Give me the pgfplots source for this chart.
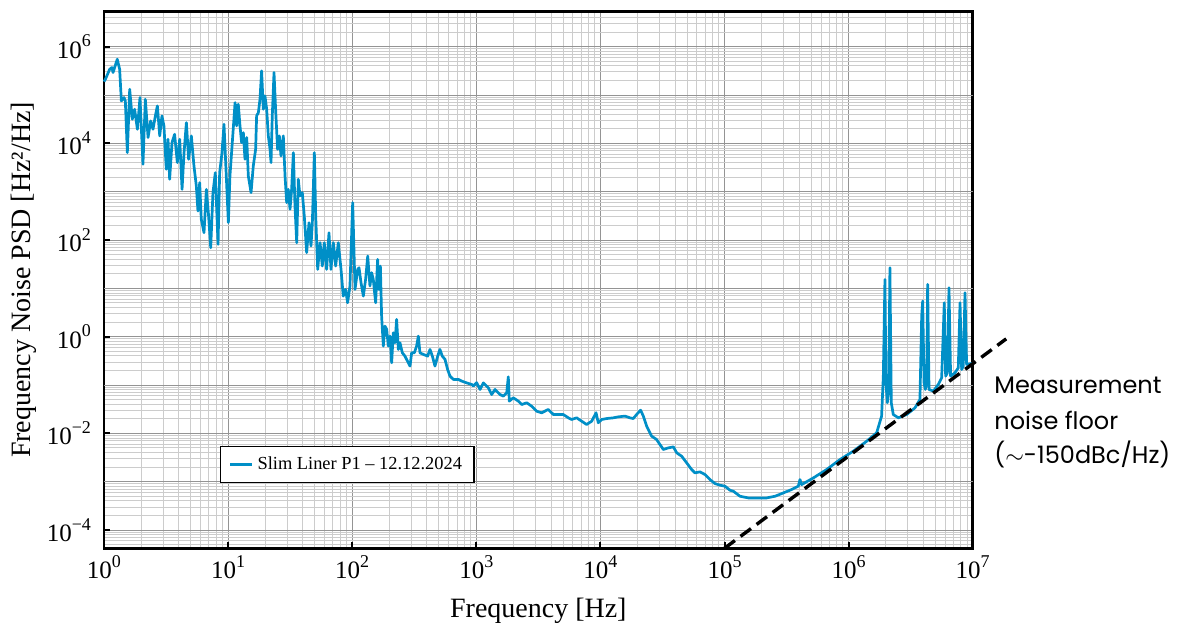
\documentclass[border=0pt]{standalone}
\usepackage{fontspec}
\setmainfont{Liberation Serif}
\newfontfamily\annfont{Poppins}
\usepackage{pgfplots}
\pgfplotsset{compat=1.18}
\definecolor{psd}{RGB}{0,143,199}
\newcommand\pw[1]{10\raisebox{0.45em}{\fontsize{9}{9}\selectfont #1}}
\begin{document}
\begin{tikzpicture}
\begin{axis}[name=ax,
 xmode=log, ymode=log,
 scale only axis, width=434.35pt, height=268.3pt,
 xmin=1, xmax=1e7, ymin=4.2e-5, ymax=5.3e6,
 clip=false,
 axis line style={line width=1.3pt, black},
 tick align=inside, tick pos=left,
 major tick length=3pt, minor tick length=0pt,
 every tick/.style={black, line width=1pt},
 grid=both,
 major grid style={draw=black!42, line width=0.5pt},
 minor grid style={draw=black!20, line width=0.5pt},
 xtick={1,10,100,1000,1e4,1e5,1e6,1e7},
 xticklabels={\pw{0},\pw{1},\pw{2},\pw{3},\pw{4},\pw{5},\pw{6},\pw{7}},
 minor xtick={2,3,4,5,6,7,8,9,20,30,40,50,60,70,80,90,200,300,400,500,600,700,800,900,2000,3000,4000,5000,6000,7000,8000,9000,2e4,3e4,4e4,5e4,6e4,7e4,8e4,9e4,2e5,3e5,4e5,5e5,6e5,7e5,8e5,9e5,2e6,3e6,4e6,5e6,6e6,7e6,8e6,9e6},
 ytick={1e-4,1e-2,1,1e2,1e4,1e6},
 yticklabels={\pw{−4},\pw{−2},\pw{0},\pw{2},\pw{4},\pw{6}},
 minor ytick={5e-5,6e-5,7e-5,8e-5,9e-5,2e-4,3e-4,4e-4,5e-4,6e-4,7e-4,8e-4,9e-4,2e-3,3e-3,4e-3,5e-3,6e-3,7e-3,8e-3,9e-3,2e-2,3e-2,4e-2,5e-2,6e-2,7e-2,8e-2,9e-2,0.2,0.3,0.4,0.5,0.6,0.7,0.8,0.9,2,3,4,5,6,7,8,9,20,30,40,50,60,70,80,90,200,300,400,500,600,700,800,900,2000,3000,4000,5000,6000,7000,8000,9000,2e4,3e4,4e4,5e4,6e4,7e4,8e4,9e4,2e5,3e5,4e5,5e5,6e5,7e5,8e5,9e5,2e6,3e6,4e6,5e6},
 extra y ticks={1e-3,1e-1,10,1000,1e5},
 extra y tick labels={},
 extra y tick style={grid=major, major tick length=0pt},
 tick label style={font=\fontsize{12.5}{14}\selectfont},
 yticklabel style={xshift=-3pt},
 xlabel={Frequency [Hz]}, ylabel={Frequency Noise PSD [Hz²/Hz]},
 label style={font=\fontsize{14}{16}\selectfont},
 xlabel style={at={(axis description cs:0.5,-0.1299)}, anchor=base},
 ylabel style={at={(axis description cs:-0.0845,0.5)}, anchor=base},
 legend style={at={(0.1335,0.1217)}, anchor=south west, draw=black, line width=0.6pt,
   font=\fontsize{9.2}{11}\selectfont, inner xsep=4pt, inner ysep=3pt},
 legend cell align=left,
 legend image code/.code={\draw[psd, line width=1.5pt] (0pt,0pt) -- (11pt,0pt);},
]
\addplot[psd, line width=1.35pt, line join=round] coordinates {
(1.0,1.9e5) (1.026,2.12e5) (1.112,3.42e5) (1.159,3.71e5) (1.183,2.92e5) (1.279,5.51e5) (1.337,3.42e5) (1.380,7.55e4) (1.449,8.87e4) (1.486,7.55e4) (1.542,6.44e3) (1.611,1.32e5) (1.690,3.16e4) (1.766,5.08e4) (1.858,1.96e4) (1.950,8.87e4) (2.061,3.69e3) (2.153,8.18e4) (2.265,1.32e4) (2.377,2.91e4) (2.483,1.96e4) (2.594,3.70e4) (2.692,5.96e4) (2.812,1.43e4) (2.931,3.70e4) (3.041,2.30e4) (3.177,2.91e3) (3.281,1.22e4) (3.381,1.81e3) (3.532,1.04e4) (3.707,1.54e4) (3.899,4.00e3) (4.074,1.22e4) (4.256,1.12e3) (4.416,6.44e3) (4.613,2.69e4) (4.808,4.69e3) (5.058,1.43e4) (5.309,3.41e3) (5.546,1.32e3) (5.715,399) (5.902,1.54e3) (6.081,269) (6.397,142) (6.683,1.12e3) (6.966,315) (7.244,69.5) (7.551,957) (7.889,2.48e3) (8.299,81.5) (8.551,2.48e3) (8.933,6.44e3) (9.268,2.48e4)
(10.05,229) (10.35,2.12e3) (10.81,1.04e4) (11.38,6.98e4) (11.72,2.30e4) (12.08,6.46e4) (12.47,2.30e4) (12.85,1.04e4) (13.27,1.67e4) (13.68,4.69e3) (14.13,1.32e4) (14.55,2.12e3) (15.31,957) (15.96,3.41e3) (16.67,7.55e3) (16.98,3.70e4) (17.54,4.34e4) (18.07,8.18e4) (18.62,3.16e5) (19.23,5.08e4) (19.82,9.59e4) (20.46,5.08e4) (21.09,1.43e4) (21.78,7.55e3) (22.18,4.00e3) (22.70,3.70e4) (23.44,2.92e5) (24.15,5.08e4) (25.06,7.55e3) (25.88,1.43e4) (26.67,5.50e3) (27.86,1.43e4) (28.77,2.12e3) (29.65,594) (30.55,1.12e3) (31.55,433) (32.51,1.12e3) (33.57,6.44e3) (34.59,507) (35.73,88.3) (36.81,1.81e3) (37.93,817) (39.63,957) (41.11,315) (42.95,54.8) (44.87,229) (46.56,75.3) (47.75,229) (49.55,6.44e3) (50.82,315) (52.72,24.7) (55.08,88.3) (57.41,29.0) (59.57,88.3) (62.23,24.7) (65.01,142) (67.45,24.7) (70.47,88.3) (73.62,29.0) (77.27,88.3) (81.28,24.7) (84.72,6.93) (88.51,9.53) (91.83,5.05) (95.94,11.2) (100.9,594) (105.4,9.53) (110.7,24.7)
(113.5,26.8) (117.8,13.1) (123.0,6.93) (128.2,15.3) (133.4,46.7) (139.0,11.2) (143.5,21.1) (147.9,15.3) (154.5,5.05) (160.3,39.8) (164.4,9.53) (168.7,29.0) (172.6,2.67) (178.2,0.640) (183.7,1.66) (189.7,1.42) (195.4,0.640) (201.8,1.03) (208.0,0.289) (214.3,1.21) (221.3,0.750) (228.0,2.28) (235.5,0.546) (242.7,0.750) (253.5,0.466) (266.1,0.397) (283.1,0.289) (292.4,0.247) (301.3,0.466) (317.0,0.466) (330.4,0.640) (341.2,1.03) (351.6,0.466) (374.1,0.431) (405.5,0.397) (423.6,0.546) (442.6,0.397) (464.5,0.247) (488.7,0.397) (509.3,0.546) (532.1,0.397) (559.8,0.339) (587.5,0.210) (613.8,0.153) (653.1,0.131) (716.1,0.131) (762.1,0.121) (835.6,0.111) (918.4,0.103)
(946.2,0.0955) (1007,0.112) (1072,0.0811) (1140,0.111) (1250,0.0877) (1330,0.0638) (1416,0.0811) (1552,0.0638) (1652,0.0590) (1758,0.0692) (1811,0.148) (1845,0.0465) (1986,0.0545) (2183,0.0465) (2323,0.0396) (2547,0.0430) (2793,0.0366) (3062,0.0288) (3365,0.0267) (3802,0.0313) (4178,0.0246) (4581,0.0246) (5023,0.0246) (5521,0.0210) (5861,0.0194) (6442,0.0210) (7063,0.0179) (7745,0.0153) (8511,0.0179) (9226,0.0267) (9616,0.0166) (10230,0.0194) (11250,0.0203) (12710,0.0210) (13960,0.0220) (15780,0.0228) (17300,0.0210) (18410,0.0203) (19590,0.0246) (21090,0.0303) (22180,0.0228) (23600,0.0141) (25880,0.00877) (28380,0.00748) (30200,0.00589) (32140,0.00465) (35240,0.00502) (38730,0.00527) (41210,0.00396) (45190,0.00338) (49550,0.00246) (54330,0.00179) (57810,0.00153) (63530,0.00160) (69660,0.00141) (76380,0.00111) (83750,0.000918) (92050,0.000847) (100900,0.000809) (110700,0.000668)
(117800,0.000637) (133400,0.000501) (155600,0.000463) (181600,0.000463) (218800,0.000463) (255300,0.000501) (297800,0.000587) (347500,0.000690) (393600,0.000809) (405500,0.00111) (418800,0.000875) (520000,0.00120) (665300,0.00179) (853100,0.00288) (1.091e6,0.00429) (1.400e6,0.00690) (1.683e6,0.0103) (1.845e6,0.0228) (1.905e6,0.153) (1.963e6,15.3) (2.000e6,0.111) (2.051e6,0.0430) (2.104e6,0.0811) (2.153e6,26.8) (2.208e6,0.0430) (2.291e6,0.0246) (2.518e6,0.0210) (2.938e6,0.0246) (3.428e6,0.0338) (3.758e6,0.0504) (3.882e6,2.67) (3.954e6,5.47) (4.055e6,0.111) (4.150e6,0.0811) (4.256e6,0.111) (4.335e6,12.1) (4.446e6,0.0811) (4.819e6,0.0748) (5.284e6,0.103) (5.623e6,0.141) (5.902e6,5.05) (6.053e6,0.153) (6.252e6,0.179) (6.442e6,10.3) (6.637e6,0.153) (7.194e6,0.179) (7.656e6,0.228) (7.907e6,5.05) (8.147e6,0.210) (8.395e6,0.247) (8.670e6,8.13) (8.933e6,0.267) (1e7,0.282)
};
\addlegendentry{Slim Liner P1 – 12.12.2024}
\addplot[black, line width=1.7pt, dash pattern=on 6.5pt off 3.5pt, forget plot] coordinates {(1e5,4.2e-5) (1.862e7,0.904)};
\node[anchor=base west, inner sep=0pt, font=\annfont\fontsize{12}{14}\selectfont] at (rel axis cs:1.0245,0.2889) {Measurement};
\node[anchor=base west, inner sep=0pt, font=\annfont\fontsize{12}{14}\selectfont] at (rel axis cs:1.0245,0.2218) {noise floor};
\node[anchor=base west, inner sep=0pt, font=\annfont\fontsize{12}{14}\selectfont] at (rel axis cs:1.0245,0.1584) {($\sim$-150dBc/Hz)};
\end{axis}
\pgfresetboundingbox
\path[use as bounding box] (ax.south west) ++(-52pt,-38.35pt) rectangle ++(592.5pt,312.5pt);
\end{tikzpicture}
\end{document}
